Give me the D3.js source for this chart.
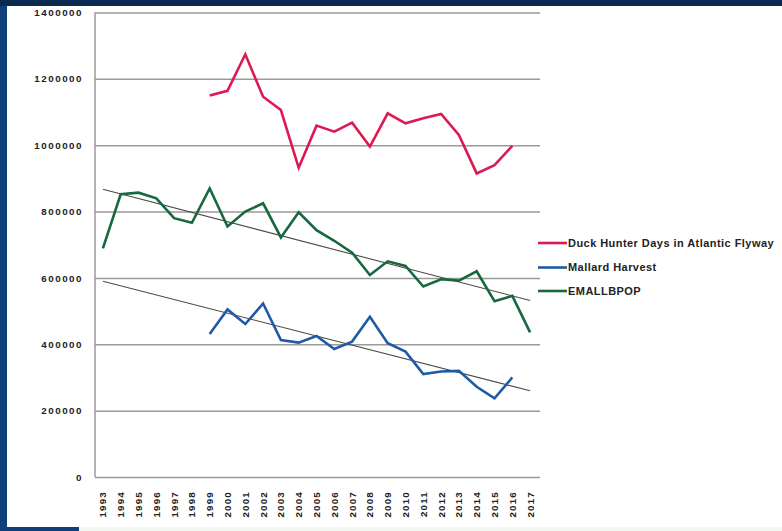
<!DOCTYPE html>
<html>
<head>
<meta charset="utf-8">
<script src="https://cdn.jsdelivr.net/npm/d3@7/dist/d3.min.js"></script>
<style>
  html, body { margin: 0; padding: 0; background: #ffffff; }
  svg { display: block; }
</style>
</head>
<body>
<svg id="chart" width="782" height="531"></svg>
<script>
// ---- data ----
const years = d3.range(1993, 2018).map(String);
const yTicks = [0, 200000, 400000, 600000, 800000, 1000000, 1200000, 1400000];

const duckYears = d3.range(1999, 2017).map(String);
const duckHunterDays = [1150000, 1164000, 1274000, 1146000, 1106000, 932000, 1059000, 1041000, 1068000, 996000, 1096000, 1066000, 1081000, 1094000, 1031000, 915000, 940000, 998000];

const mallardYears = d3.range(1999, 2017).map(String);
const mallardHarvest = [431000, 505000, 461000, 523000, 413000, 405000, 425000, 386000, 408000, 483000, 403000, 378000, 310000, 318000, 320000, 272000, 237000, 300000];

const emallYears = d3.range(1993, 2018).map(String);
const emallbpop = [689000, 852000, 857000, 840000, 780000, 766000, 870000, 755000, 800000, 825000, 722000, 798000, 744000, 712000, 676000, 609000, 650000, 636000, 574000, 596000, 592000, 620000, 530000, 546000, 436000];

// linear trend lines (endpoints, 1993 -> 2017)
const trendYears = ["1993", "2017"];
const mallardTrend = [590000, 260000];
const emallTrend = [867000, 532000];

const seriesNames = ["Duck Hunter Days in Atlantic Flyway", "Mallard Harvest", "EMALLBPOP"];
const seriesColors = ["#dc1a52", "#1f5aa6", "#17683f"];

// ---- drawing ----
const svg = d3.select("#chart");
const W = 782, H = 531;

// slide frame
svg.append("rect").attr("x", 0).attr("y", 0).attr("width", W).attr("height", H).attr("fill", "#0e3f78");
svg.append("rect").attr("x", 0).attr("y", 0).attr("width", W).attr("height", 6).attr("fill", "#0b2a52");
svg.append("rect").attr("x", 7).attr("y", 6).attr("width", W - 7).attr("height", 521).attr("fill", "#ffffff");
svg.append("rect").attr("x", 79).attr("y", 527).attr("width", W - 79).attr("height", 4).attr("fill", "#f3f6f1");

const pLeft = 94, pRight = 539, pTop = 12.5, pBottom = 477;

const x = d3.scaleBand().domain(years).range([pLeft, pRight]).padding(0);
const xc = d => x(d) + x.bandwidth() / 2;
const y = d3.scaleLinear().domain([0, 1400000]).range([pBottom, pTop]);

const fontFam = "'Liberation Sans', Arial, sans-serif";

// gridlines
const yAxis = d3.axisLeft(y).tickValues(yTicks).tickSize(-(pRight - pLeft)).tickFormat(d3.format("d"));
const gY = svg.append("g").attr("transform", `translate(${pLeft + 1},0)`).call(yAxis);
gY.select(".domain").remove();
gY.selectAll(".tick line").attr("stroke", "#9a9a9a").attr("stroke-width", 1.5);
gY.selectAll(".tick text")
  .attr("x", -12)
  .attr("font-family", fontFam)
  .attr("font-weight", "bold")
  .attr("font-size", 9.8)
  .attr("letter-spacing", 1.5)
  .attr("fill", "#222");

// left axis line
svg.append("line").attr("x1", pLeft + 1).attr("x2", pLeft + 1).attr("y1", pTop).attr("y2", pBottom)
  .attr("stroke", "#9a9a9a").attr("stroke-width", 1.5);

// x axis labels
const xAxis = d3.axisBottom(x).tickSize(0).tickFormat(d => d);
const gX = svg.append("g").attr("transform", `translate(0,${pBottom})`).call(xAxis);
gX.select(".domain").remove();
gX.selectAll(".tick text")
  .attr("transform", "rotate(-90)")
  .attr("x", -14)
  .attr("y", 0)
  .attr("dy", "0.35em")
  .attr("text-anchor", "end")
  .attr("font-family", fontFam)
  .attr("font-weight", "bold")
  .attr("font-size", 9.8)
  .attr("letter-spacing", 1.2)
  .attr("fill", "#222");

// trend lines
const trendLine = d3.line().x(d => xc(d[0])).y(d => y(d[1]));
[mallardTrend, emallTrend].forEach(t => {
  svg.append("path")
    .datum(trendYears.map((yr, i) => [yr, t[i]]))
    .attr("d", trendLine)
    .attr("fill", "none")
    .attr("stroke", "#4a4a4a")
    .attr("stroke-width", 1.1);
});

// series lines
const allSeries = [
  { years: duckYears, values: duckHunterDays },
  { years: mallardYears, values: mallardHarvest },
  { years: emallYears, values: emallbpop }
];
const line = d3.line().x(d => xc(d[0])).y(d => y(d[1]));
allSeries.forEach((s, i) => {
  svg.append("path")
    .datum(s.years.map((yr, j) => [yr, s.values[j]]))
    .attr("d", line)
    .attr("fill", "none")
    .attr("stroke", seriesColors[i])
    .attr("stroke-width", 2.6)
    .attr("stroke-linejoin", "miter");
});

// legend
const legendY = [243, 267.5, 291];
const lg = svg.append("g");
seriesNames.forEach((name, i) => {
  lg.append("line").attr("x1", 538).attr("x2", 567).attr("y1", legendY[i]).attr("y2", legendY[i])
    .attr("stroke", seriesColors[i]).attr("stroke-width", 2.6);
  lg.append("text").attr("x", 568).attr("y", legendY[i]).attr("dy", "0.35em")
    .attr("font-family", fontFam).attr("font-weight", "bold").attr("font-size", 11)
    .attr("letter-spacing", 0.45)
    .attr("fill", "#222").text(name);
});
</script>
</body>
</html>
